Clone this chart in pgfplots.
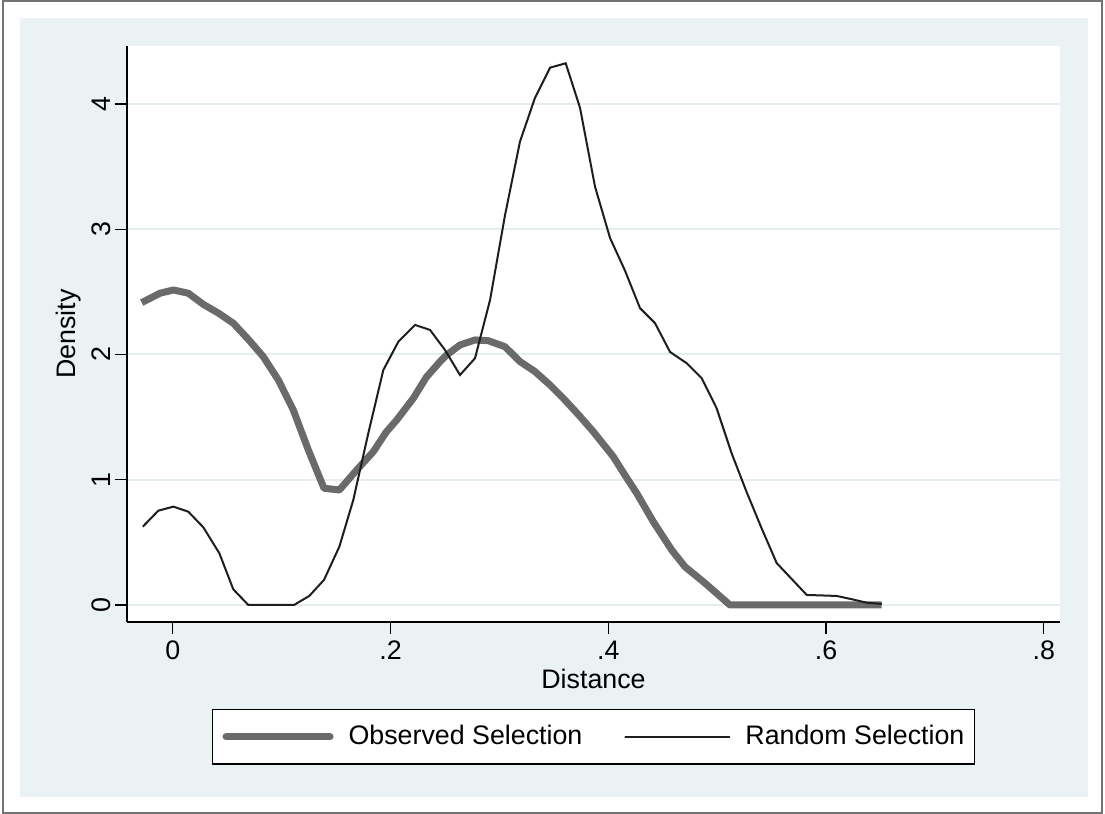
\documentclass[border=0pt]{standalone}
\usepackage{fontspec}
\setmainfont{Liberation Sans}
\usepackage{pgfplots}
\pgfplotsset{compat=1.18}

\definecolor{bgblue}{HTML}{EAF2F3}
\definecolor{gridblue}{HTML}{E4EDEF}
\definecolor{obsgray}{HTML}{6A6A6A}
\definecolor{randblack}{HTML}{1E1E1E}

% kernel density estimates
\pgfplotstableread{
x        y
-0.0285  2.414
-0.0117  2.489
0.0006   2.515
0.0143   2.489
0.0281   2.400
0.0420   2.330
0.0557   2.249
0.0695   2.120
0.0832   1.982
0.0970   1.796
0.1107   1.557
0.1245   1.238
0.1389   0.932
0.1530   0.918
0.1690   1.078
0.1842   1.224
0.1960   1.380
0.2057   1.477
0.2209   1.650
0.2330   1.820
0.2455   1.943
0.2516   1.996
0.2638   2.076
0.2776   2.116
0.2898   2.110
0.3051   2.062
0.3189   1.943
0.3327   1.863
0.3460   1.760
0.3587   1.650
0.3725   1.520
0.3862   1.384
0.4046   1.184
0.4150   1.040
0.4261   0.892
0.4413   0.665
0.4582   0.439
0.4704   0.305
0.4872   0.186
0.5117   0.000
0.6510   0.000
}\observed

\pgfplotstableread{
x        y
-0.0275  0.625
-0.0132  0.753
0.0006   0.785
0.0143   0.745
0.0281   0.620
0.0428   0.413
0.0556   0.125
0.0694   0.000
0.1114   0.000
0.1254   0.072
0.1389   0.200
0.1530   0.465
0.1658   0.838
0.1796   1.371
0.1934   1.876
0.2072   2.102
0.2225   2.236
0.2363   2.196
0.2500   2.036
0.2638   1.836
0.2776   1.970
0.2914   2.435
0.3051   3.110
0.3189   3.700
0.3327   4.050
0.3465   4.290
0.3609   4.325
0.3740   3.970
0.3878   3.340
0.4016   2.930
0.4153   2.670
0.4291   2.370
0.4429   2.250
0.4567   2.020
0.4720   1.930
0.4858   1.810
0.4995   1.570
0.5133   1.210
0.5271   0.900
0.5409   0.610
0.5546   0.335
0.5822   0.080
0.6097   0.072
0.6235   0.046
0.6373   0.018
0.6511   0.008
}\random

\begin{document}
\begin{tikzpicture}
\useasboundingbox (0pt,0pt) rectangle (552.5pt,407pt);
\fill[bgblue] (10pt,8.5pt) rectangle (544pt,398pt);
\draw[black!55, line width=0.6pt] (1.5pt,0.5pt) rectangle (551pt,406.5pt);
\begin{axis}[
  at={(63.5pt,96pt)}, anchor=south west,
  scale only axis, width=466.5pt, height=288pt,
  font=\fontsize{13.4pt}{15pt}\selectfont,
  xmin=-0.042, xmax=0.8148, ymin=-0.136, ymax=4.463,
  axis lines*=left,
  axis line style={black, line width=0.7pt},
  axis background/.style={fill=white},
  xtick={0,0.2,0.4,0.6,0.8},
  xticklabels={0,.2,.4,.6,.8},
  ytick={0,1,2,3,4},
  yticklabels={0,1,2,3,4},
  tick align=outside, major tick length=6pt,
  tick style={black, line width=0.6pt},
  ymajorgrids, grid style={gridblue, line width=1pt},
  yticklabel shift=2.5pt,
  yticklabel style={rotate=90, anchor=base},
  xlabel={Distance}, ylabel={Density},
  every axis x label/.style={at={(axis description cs:0.5,-0.1163)}, anchor=base},
  every axis y label/.style={at={(axis description cs:-0.0547,0.5)}, rotate=90, anchor=base},
  legend columns=2,
  legend style={at={(axis description cs:0.5,-0.151)}, anchor=north,
    draw=black, line width=0.6pt, fill=white,
    inner xsep=5pt, inner ysep=4.5pt,
    nodes={inner xsep=0pt, inner ysep=3.5pt},
    /tikz/every odd column/.append style={column sep=7.5pt},
    /tikz/every even column/.append style={column sep=21pt}},
  legend image code/.code={\draw[#1, line cap=round] (0pt,0pt) -- (52pt,0pt);},
]
\addplot[obsgray, line width=3.5pt, line join=round] table[x=x, y=y] {\observed};
\addlegendentry{Observed Selection}
\addplot[randblack, line width=1pt] table[x=x, y=y] {\random};
\addlegendentry{Random Selection}
\end{axis}
\end{tikzpicture}
\end{document}
